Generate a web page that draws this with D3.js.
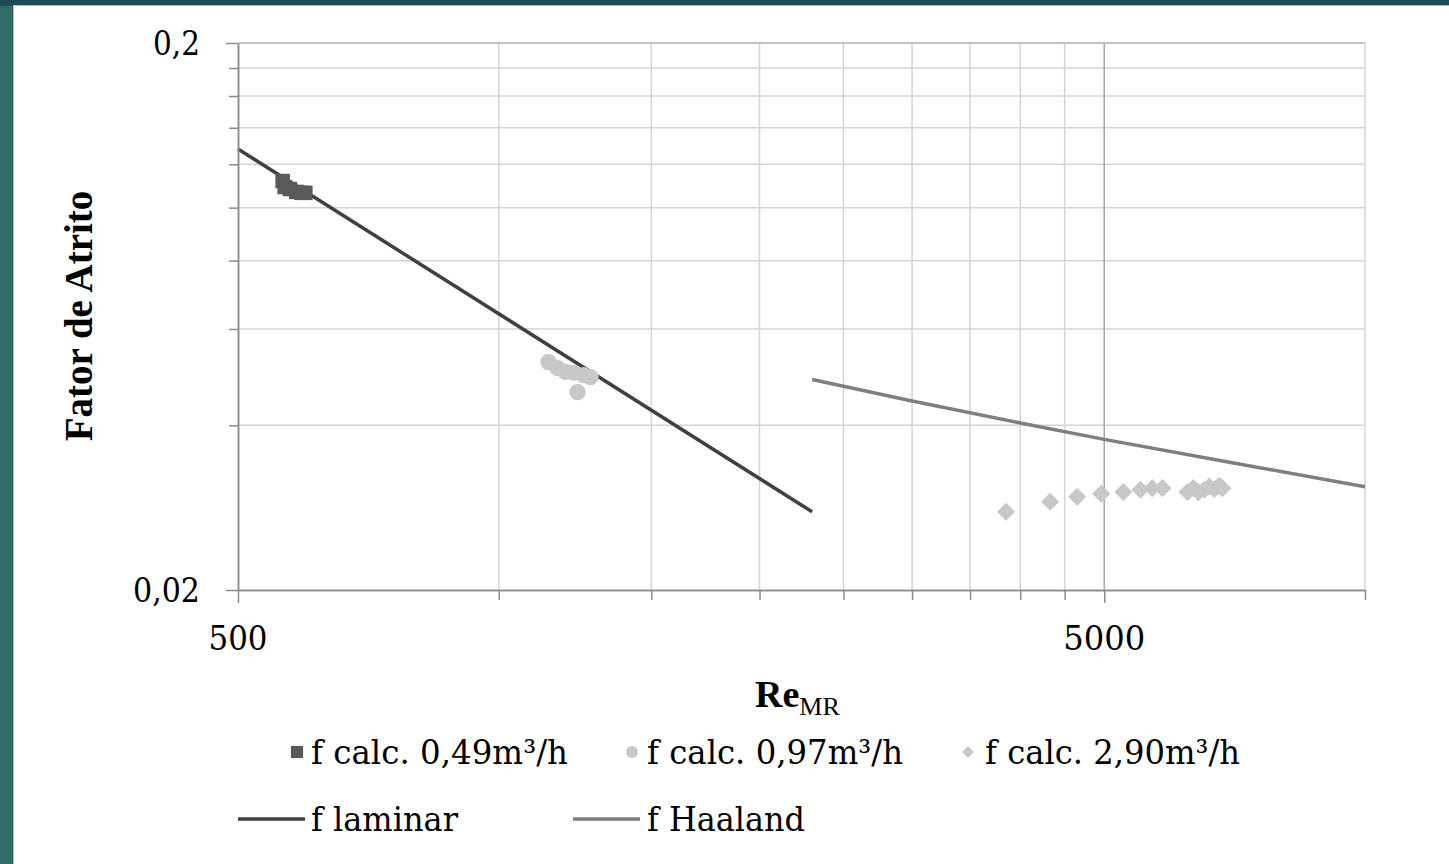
<!DOCTYPE html>
<html>
<head>
<meta charset="utf-8">
<script src="https://cdn.jsdelivr.net/npm/d3@7"></script>
<style>
  html, body { margin: 0; padding: 0; background: #2f6b67; }
  svg { display: block; }
</style>
</head>
<body>
<div id="chart"></div>
<script>
// data
var reSquares = [563, 566, 574, 584, 592, 598];
var fSquares  = [0.1114, 0.1086, 0.1077, 0.1064, 0.106, 0.106];

var reCircles = [1141, 1169, 1194, 1220, 1253, 1276, 1233];
var fCircles  = [0.0522, 0.0509, 0.0501, 0.0499, 0.0494, 0.049, 0.046];

var reDiamonds = [3852, 4330, 4653, 4961, 5260, 5504, 5681, 5837, 6237, 6336, 6420, 6525, 6611, 6700, 6790, 6845];
var fDiamonds  = [0.0278, 0.029, 0.0296, 0.03, 0.0302, 0.0305, 0.0307, 0.0307, 0.0302, 0.0307, 0.0302, 0.0305, 0.0309, 0.0306, 0.031, 0.0307];

var reLaminar = [500, 2300];
var fLaminar  = [0.128, 0.0278];

var reHaaland = [2300, 3000, 4000, 5000, 7000, 10000];
var fHaaland  = [0.0485, 0.0443, 0.0404, 0.0377, 0.0342, 0.0309];

var xMajor = [500, 5000];
var xMinor = [1000, 1500, 2000, 2500, 3000, 3500, 4000, 4500, 10000];
var yMajor = [0.02, 0.2];
var yMinor = [0.04, 0.06, 0.08, 0.1, 0.12, 0.14, 0.16, 0.18];
var yLabels = ["0,02", "0,2"];

var legendNames = ["f calc. 0,49m³/h", "f calc. 0,97m³/h", "f calc. 2,90m³/h", "f laminar", "f Haaland"];

var W = 1449, H = 864;
var serif = "DejaVu Serif, Liberation Serif, serif";
var serifBold = "Liberation Serif, DejaVu Serif, serif";

var svg = d3.select("#chart").append("svg")
  .attr("width", W)
  .attr("height", H)
  .attr("font-family", serif);

// slide background + white panel
svg.append("rect").attr("x", 0).attr("y", 0).attr("width", W).attr("height", 6).attr("fill", "#1c4b56");
svg.append("rect").attr("x", 13).attr("y", 5).attr("width", W - 13).attr("height", H - 5).attr("fill", "#b8b8b8");
svg.append("rect").attr("x", 14).attr("y", 6).attr("width", W - 14).attr("height", H - 6).attr("fill", "#fff");

var x = d3.scaleLog().domain([500, 10000]).range([238, 1365]);
var y = d3.scaleLog().domain([0.02, 0.2]).range([590, 43]);

var plot = svg.append("g");

// minor gridlines
plot.selectAll(".gx").data(xMinor).enter().append("line")
  .attr("x1", d => x(d)).attr("x2", d => x(d))
  .attr("y1", y(0.02)).attr("y2", y(0.2))
  .attr("stroke", "#d4d4d4").attr("stroke-width", 1.5);
plot.selectAll(".gy").data(yMinor).enter().append("line")
  .attr("x1", x(500)).attr("x2", x(10000))
  .attr("y1", d => y(d)).attr("y2", d => y(d))
  .attr("stroke", "#d4d4d4").attr("stroke-width", 1.5);

// major gridlines
plot.selectAll(".gxm").data(xMajor.slice(1)).enter().append("line")
  .attr("x1", d => x(d)).attr("x2", d => x(d))
  .attr("y1", y(0.02)).attr("y2", y(0.2))
  .attr("stroke", "#a6a6a6").attr("stroke-width", 1.5);
plot.selectAll(".gym").data(yMajor.slice(1)).enter().append("line")
  .attr("x1", x(500)).attr("x2", x(10000))
  .attr("y1", d => y(d)).attr("y2", d => y(d))
  .attr("stroke", "#b0b0b0").attr("stroke-width", 1.5);

// axes
var axisCol = "#8c8c8c";
function styleAxis(g) {
  g.select(".domain").attr("stroke", axisCol).attr("stroke-width", 1.5);
  g.selectAll(".tick line").attr("stroke", axisCol).attr("stroke-width", 1.5);
  g.selectAll("text").remove();
}

svg.append("g").attr("transform", "translate(0," + y(0.02) + ")")
  .call(d3.axisBottom(x).tickValues(xMinor).tickSize(10).tickSizeOuter(0))
  .call(styleAxis);
svg.append("g").attr("transform", "translate(0," + y(0.02) + ")")
  .call(d3.axisBottom(x).tickValues(xMajor).tickSize(13).tickSizeOuter(0))
  .call(styleAxis);
svg.append("g").attr("transform", "translate(" + x(500) + ",0)")
  .call(d3.axisLeft(y).tickValues(yMinor).tickSize(9).tickSizeOuter(0))
  .call(styleAxis);
svg.append("g").attr("transform", "translate(" + x(500) + ",0)")
  .call(d3.axisLeft(y).tickValues(yMajor).tickSize(12).tickSizeOuter(0))
  .call(styleAxis);

// regular text helper, stretched to the widths seen in the picture
function label(sel, txt, px) {
  var t = sel.append("text").attr("font-family", serif).attr("font-size", 33).text(txt);
  if (px) t.attr("textLength", px).attr("lengthAdjust", "spacingAndGlyphs");
  return t;
}

// tick labels
var yLabW = [67, 47];
yMajor.forEach(function(d, i) {
  label(svg, yLabels[i], yLabW[i]).attr("x", 200 - yLabW[i]).attr("y", y(d) + 12);
});
var xLabW = [59, 82];
xMajor.forEach(function(d, i) {
  label(svg, String(d), xLabW[i]).attr("x", x(d) - xLabW[i] / 2).attr("y", 650);
});

// axis titles
svg.append("text")
  .attr("transform", "translate(92,316) rotate(-90)")
  .attr("text-anchor", "middle")
  .attr("font-family", serifBold).attr("font-size", 39).attr("font-weight", "bold")
  .text("Fator de Atrito");
var xt = svg.append("text").attr("x", 755).attr("y", 707)
  .attr("font-family", serifBold);
xt.append("tspan").attr("font-size", 38).attr("font-weight", "bold").text("Re");
xt.append("tspan").attr("dy", 8).attr("font-size", 26).text("MR");

// lines
var line = d3.line().x(d => x(d[0])).y(d => y(d[1]));
plot.append("path").datum(d3.zip(reLaminar, fLaminar))
  .attr("d", line).attr("fill", "none").attr("stroke", "#404040").attr("stroke-width", 3.5);
plot.append("path").datum(d3.zip(reHaaland, fHaaland))
  .attr("d", line).attr("fill", "none").attr("stroke", "#7f7f7f").attr("stroke-width", 3.5);

// markers
var sq = d3.symbol().type(d3.symbolSquare).size(210);
var ci = d3.symbol().type(d3.symbolCircle).size(210);
var di = d3.symbol().type(d3.symbolSquare).size(165);

plot.selectAll(".sq").data(d3.zip(reSquares, fSquares)).enter().append("path")
  .attr("d", sq).attr("transform", d => "translate(" + x(d[0]) + "," + (y(d[1]) - 1) + ")")
  .attr("fill", "#595959");
plot.selectAll(".ci").data(d3.zip(reCircles, fCircles)).enter().append("path")
  .attr("d", ci).attr("transform", d => "translate(" + x(d[0]) + "," + y(d[1]) + ")")
  .attr("fill", "#c8c8c8");
plot.selectAll(".di").data(d3.zip(reDiamonds, fDiamonds)).enter().append("path")
  .attr("d", di).attr("transform", d => "translate(" + x(d[0]) + "," + y(d[1]) + ") rotate(45)")
  .attr("fill", "#c8c8c8");

// legend
var leg = svg.append("g");
var row1 = [
  {mx: 297, tx: 311, w: 257, sym: d3.symbol().type(d3.symbolSquare).size(150), col: "#595959", rot: 0},
  {mx: 632, tx: 647, w: 256, sym: d3.symbol().type(d3.symbolCircle).size(110), col: "#c8c8c8", rot: 0},
  {mx: 968, tx: 985, w: 255, sym: d3.symbol().type(d3.symbolSquare).size(75), col: "#c8c8c8", rot: 45}
];
row1.forEach(function(r, i) {
  leg.append("path").attr("d", r.sym)
    .attr("transform", "translate(" + r.mx + ",752) rotate(" + r.rot + ")").attr("fill", r.col);
  label(leg, legendNames[i], r.w).attr("x", r.tx).attr("y", 764);
});
var row2 = [
  {x1: 238, x2: 305, tx: 311, w: 147, col: "#404040"},
  {x1: 573, x2: 640, tx: 647, w: 158, col: "#7f7f7f"}
];
row2.forEach(function(r, i) {
  leg.append("line").attr("x1", r.x1).attr("x2", r.x2).attr("y1", 819).attr("y2", 819)
    .attr("stroke", r.col).attr("stroke-width", 3.5);
  label(leg, legendNames[3 + i], r.w).attr("x", r.tx).attr("y", 831);
});
</script>
</body>
</html>
